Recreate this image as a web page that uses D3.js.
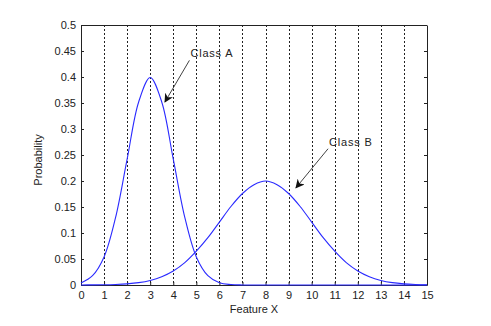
<!DOCTYPE html>
<html>
<head>
<meta charset="utf-8">
<script src="https://cdn.jsdelivr.net/npm/d3@7"></script>
<style>
  body { margin: 0; background: #fff; }
  svg text { font-family: "Liberation Sans", Arial, sans-serif; fill: #222; }
</style>
</head>
<body>
<svg class="pdf-chart"></svg>
<script>
// values
var featureX = [0, 0.5, 1, 1.5, 2, 2.5, 3, 3.5, 4, 4.5, 5, 5.5, 6, 6.5, 7, 7.5, 8, 8.5, 9, 9.5, 10, 10.5, 11, 11.5, 12, 12.5, 13, 13.5, 14, 14.5, 15];
var classA = [0.004, 0.018, 0.054, 0.13, 0.242, 0.352, 0.399, 0.352, 0.242, 0.13, 0.054, 0.018, 0.0044, 0.0009, 0.0001, 0, 0, 0, 0, 0, 0, 0, 0, 0, 0, 0, 0, 0, 0, 0, 0];
var classB = [0.0001, 0.0002, 0.0004, 0.001, 0.0022, 0.0045, 0.0088, 0.016, 0.027, 0.043, 0.065, 0.091, 0.121, 0.151, 0.176, 0.193, 0.2, 0.193, 0.176, 0.151, 0.121, 0.091, 0.065, 0.043, 0.027, 0.016, 0.0088, 0.0045, 0.0022, 0.001, 0.0004];
var xTicks = d3.range(0, 16);
var yTicks = [0, 0.05, 0.1, 0.15, 0.2, 0.25, 0.3, 0.35, 0.4, 0.45, 0.5];
// text anchor (tx, ty) and arrow tip (x, y), in data units
var notes = [
  {label: "Class A", tx: 4.7, ty: 0.432, x: 3.64, y: 0.352},
  {label: "Class B", tx: 10.71, ty: 0.262, x: 9.32, y: 0.187}
];

var margin = {top: 25, right: 64, bottom: 41, left: 81};
var width = 491 - margin.left - margin.right;
var height = 326 - margin.top - margin.bottom;

var x = d3.scaleLinear().domain([0, 15]).range([0, width]);
var y = d3.scaleLinear().domain([0, 0.5]).range([height, 0]);

var svg = d3.select(".pdf-chart")
  .attr("width", 491)
  .attr("height", 326);

svg.append("defs").append("marker")
  .attr("id", "head")
  .attr("viewBox", "0 0 10 10")
  .attr("refX", 9)
  .attr("refY", 5)
  .attr("markerWidth", 9)
  .attr("markerHeight", 9)
  .attr("markerUnits", "userSpaceOnUse")
  .attr("orient", "auto")
  .append("path")
  .attr("d", "M0,0 L10,5 L0,10 L3,5 Z")
  .attr("fill", "#111");

var chart = svg.append("g")
  .attr("transform", "translate(" + margin.left + "," + margin.top + ")");

// dotted vertical grid
chart.selectAll(".grid")
  .data(xTicks.slice(1, -1))
  .enter().append("line")
  .attr("class", "grid")
  .attr("x1", function(d) { return Math.round(x(d)) + 0.5; })
  .attr("x2", function(d) { return Math.round(x(d)) + 0.5; })
  .attr("y1", 0)
  .attr("y2", height)
  .attr("stroke", "#222")
  .attr("stroke-width", 1)
  .attr("stroke-dasharray", "2,2");

var xAxis = d3.axisBottom(x).tickValues(xTicks).tickSizeInner(-3).tickSizeOuter(0).tickPadding(6);
var yAxis = d3.axisLeft(y).tickValues(yTicks).tickSizeInner(-3).tickSizeOuter(0).tickPadding(5)
  .tickFormat(function(d) { return d3.format("")(+d.toFixed(2)); });

chart.append("g")
  .attr("transform", "translate(0," + height + ")")
  .call(xAxis)
  .call(function(g) {
    g.select(".domain").attr("stroke", "#222");
    g.selectAll("line").attr("stroke", "#222");
    g.selectAll("text").attr("font-size", 11).attr("fill", "#222");
  });

chart.append("g")
  .call(yAxis)
  .call(function(g) {
    g.select(".domain").attr("stroke", "#222");
    g.selectAll("line").attr("stroke", "#222");
    g.selectAll("text").attr("font-size", 11).attr("fill", "#222");
  });

// right axis with inward ticks, no labels
chart.append("g")
  .attr("transform", "translate(" + width + ",0)")
  .call(d3.axisRight(y).tickValues(yTicks).tickSizeInner(-3).tickSizeOuter(0).tickFormat(""))
  .call(function(g) {
    g.select(".domain").attr("stroke", "#222");
    g.selectAll("line").attr("stroke", "#222");
  });

// top border
chart.append("line")
  .attr("x1", 0).attr("x2", width)
  .attr("y1", 0.5).attr("y2", 0.5)
  .attr("stroke", "#222");

var line = d3.line()
  .x(function(d, i) { return x(featureX[i]); })
  .y(function(d) { return y(d); })
  .curve(d3.curveCatmullRom);

[classA, classB].forEach(function(series) {
  chart.append("path")
    .datum(series)
    .attr("fill", "none")
    .attr("stroke", "#2a2aff")
    .attr("stroke-width", 1.1)
    .attr("d", line);
});

notes.forEach(function(n) {
  chart.append("line")
    .attr("x1", x(n.tx))
    .attr("y1", y(n.ty))
    .attr("x2", x(n.x))
    .attr("y2", y(n.y))
    .attr("stroke", "#111")
    .attr("stroke-width", 0.8)
    .attr("marker-end", "url(#head)");
  chart.append("text")
    .attr("x", x(n.tx) + 1)
    .attr("y", y(n.ty) - 3)
    .attr("font-size", 11)
    .attr("letter-spacing", 0.8)
    .text(n.label);
});

chart.append("text")
  .attr("x", width / 2)
  .attr("y", height + 28)
  .attr("text-anchor", "middle")
  .attr("font-size", 11)
  .text("Feature X");

chart.append("text")
  .attr("transform", "rotate(-90)")
  .attr("x", -height / 2 - 5)
  .attr("y", -39)
  .attr("text-anchor", "middle")
  .attr("font-size", 11)
  .text("Probability");
</script>
</body>
</html>
